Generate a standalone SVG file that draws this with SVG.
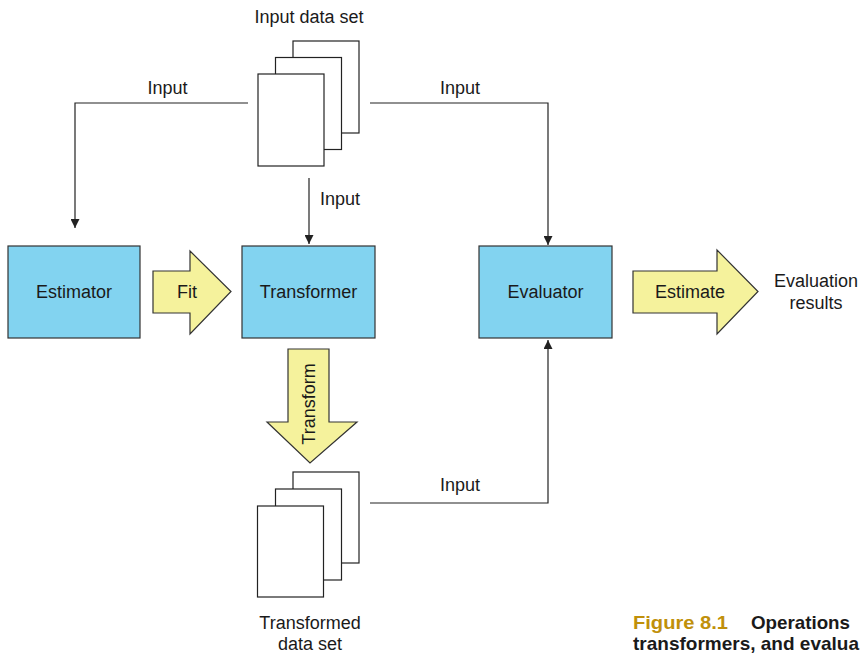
<svg xmlns="http://www.w3.org/2000/svg" width="860" height="653" viewBox="0 0 860 653">
<defs>
<style>
text{font-family:"Liberation Sans",Arial,sans-serif;font-size:18px;fill:#1a1a1a}
.c{text-anchor:middle}
.box{fill:#82d3f0;stroke:#333;stroke-width:1.2}
.arr{fill:#f5f29c;stroke:#333;stroke-width:1.2}
.page{fill:#fff;stroke:#222;stroke-width:1.2}
.ln{fill:none;stroke:#222;stroke-width:1.2}
.cap{font-weight:bold;font-size:19px}
</style>
<marker id="ah" viewBox="0 0 10 10" refX="10" refY="5" markerWidth="9" markerHeight="9" markerUnits="userSpaceOnUse" orient="auto">
<path d="M0,0 L10,5 L0,10 z" fill="#222"/>
</marker>
</defs>
<rect width="860" height="653" fill="#fff"/>

<g id="input-data-set">
<rect class="page" x="293" y="41" width="66" height="92"/>
<rect class="page" x="275.5" y="57.5" width="66" height="92"/>
<rect class="page" x="258" y="74" width="66" height="92"/>
<text class="c" x="309" y="23">Input data set</text>
</g>

<g id="estimator">
<rect class="box" x="8" y="246" width="132" height="92"/>
<text class="c" x="74" y="298">Estimator</text>
</g>

<g id="transformer">
<rect class="box" x="242" y="246" width="133" height="92"/>
<text class="c" x="308.5" y="298">Transformer</text>
</g>

<g id="evaluator">
<rect class="box" x="479" y="246" width="133" height="92"/>
<text class="c" x="545.5" y="298">Evaluator</text>
</g>

<g id="fit">
<path class="arr" d="M153,271 H190 V251 L231,291.5 L190,334 V313 H153 Z"/>
<text class="c" x="187" y="298">Fit</text>
</g>

<g id="estimate">
<path class="arr" d="M633,271 H717 V250 L758,291.5 L717,334 V313 H633 Z"/>
<text class="c" x="690" y="298">Estimate</text>
</g>

<g id="evaluation-results">
<text class="c" x="816" y="287">Evaluation</text>
<text class="c" x="816" y="309">results</text>
</g>

<g id="transform">
<path class="arr" d="M288,349 H329 V422 H357 L310,463 L267,422 H288 Z"/>
<text class="c" transform="translate(314.5,404) rotate(-90)">Transform</text>
</g>

<g id="transformed-data-set">
<rect class="page" x="293" y="472" width="66" height="91"/>
<rect class="page" x="275.5" y="489" width="66" height="91"/>
<rect class="page" x="257.5" y="506" width="66" height="91"/>
<text class="c" x="310" y="629">Transformed</text>
<text class="c" x="310" y="650">data set</text>
</g>

<g id="connectors">
<path class="ln" d="M248,103 H75 V228" marker-end="url(#ah)"/>
<path class="ln" d="M370,103 H548 V245" marker-end="url(#ah)"/>
<path class="ln" d="M309,178 V244" marker-end="url(#ah)"/>
<path class="ln" d="M370,503 H548 V340" marker-end="url(#ah)"/>
<text class="c" x="167.5" y="94">Input</text>
<text class="c" x="460" y="94">Input</text>
<text x="320" y="205">Input</text>
<text class="c" x="460" y="491">Input</text>
</g>

<g id="caption">
<text class="cap" x="633" y="629" textLength="95" lengthAdjust="spacingAndGlyphs" style="fill:#c0900a">Figure 8.1</text>
<text class="cap" x="751" y="629" textLength="99" lengthAdjust="spacingAndGlyphs">Operations</text>
<text class="cap" x="633" y="650" textLength="226" lengthAdjust="spacingAndGlyphs">transformers, and evalua</text>
</g>
</svg>
